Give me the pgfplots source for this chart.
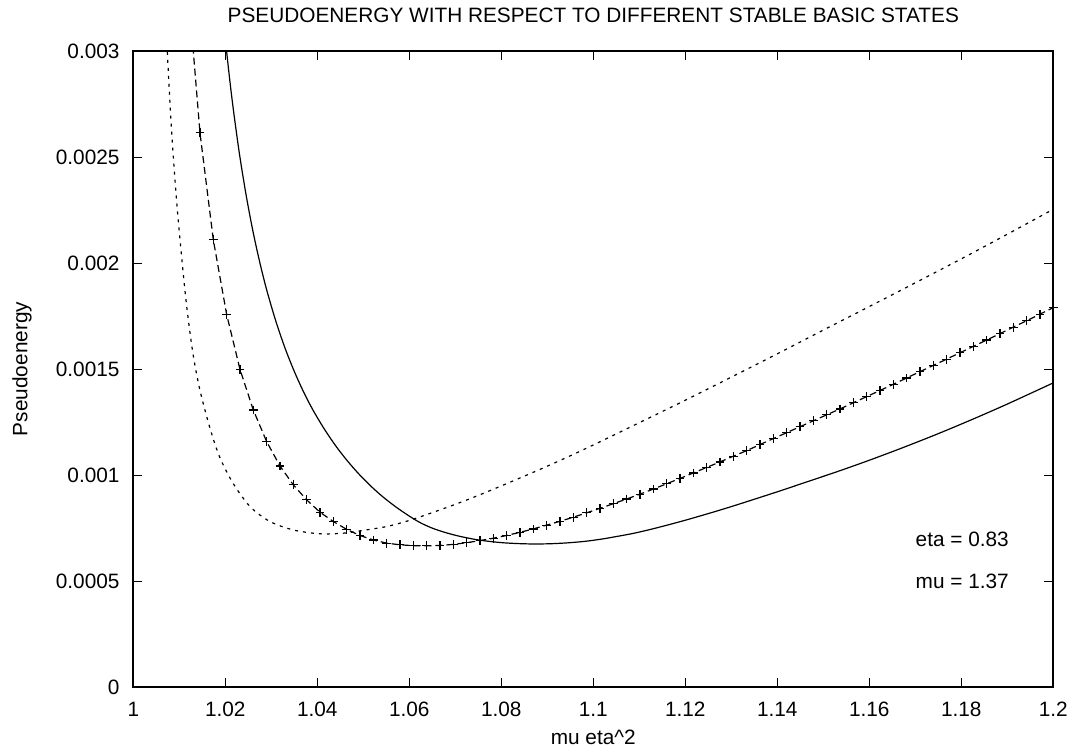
\documentclass[border=0pt]{standalone}
\usepackage{fontspec}
\setmainfont{Liberation Sans}
\usepackage{pgfplots}
\pgfplotsset{compat=1.18}
\usepackage{pgfplotstable}

\newcommand{\fs}{\fontsize{10.4}{12.5}\selectfont}

% dashed series with + marks (first row lies above the plot range)
\pgfplotstableread{
x y
1.011594 0.003384
1.014493 0.002616
1.017391 0.002111
1.020290 0.001759
1.023188 0.001500
1.026087 0.001308
1.028986 0.001159
1.031884 0.001044
1.034783 0.000955
1.037681 0.000884
1.040580 0.000826
1.043478 0.000782
1.046377 0.000745
1.049275 0.000716
1.052174 0.000695
1.055072 0.000680
1.057971 0.000672
1.060870 0.000668
1.063768 0.000667
1.066667 0.000669
1.069565 0.000674
1.072464 0.000682
1.075362 0.000692
1.078261 0.000703
1.081159 0.000716
1.084058 0.000731
1.086957 0.000747
1.089855 0.000765
1.092754 0.000783
1.095652 0.000802
1.098551 0.000823
1.101449 0.000844
1.104348 0.000866
1.107246 0.000888
1.110145 0.000911
1.113043 0.000935
1.115942 0.000960
1.118841 0.000985
1.121739 0.001011
1.124638 0.001037
1.127536 0.001063
1.130435 0.001090
1.133333 0.001116
1.136232 0.001145
1.139130 0.001173
1.142029 0.001201
1.144928 0.001229
1.147826 0.001257
1.150725 0.001285
1.153623 0.001313
1.156522 0.001342
1.159420 0.001371
1.162319 0.001400
1.165217 0.001429
1.168116 0.001459
1.171014 0.001489
1.173913 0.001518
1.176812 0.001548
1.179710 0.001578
1.182609 0.001608
1.185507 0.001638
1.188406 0.001668
1.191304 0.001699
1.194203 0.001729
1.197101 0.001760
1.200000 0.001791
}\dashdata

\pgfplotstableread{
x y
1.0065 0.00345
1.00739 0.00300
1.00834 0.00262
1.00943 0.00229
1.01073 0.00198
1.0117 0.00178
1.0130 0.00157
1.0145 0.00140
1.0167 0.00122
1.0188 0.001085
1.0217 0.000962
1.0254 0.000852
1.0297 0.000782
1.0348 0.000742
1.0406 0.000724
1.0457 0.000727
1.0493 0.000738
1.0550 0.000758
1.0600 0.000787
1.0650 0.000824
1.0700 0.000863
1.0750 0.000905
1.0800 0.000950
1.0850 0.000996
1.0900 0.001043
1.0950 0.001092
1.1000 0.001143
1.1100 0.001248
1.1200 0.001354
1.1300 0.001463
1.1400 0.001573
1.1500 0.001685
1.1600 0.001796
1.1700 0.001908
1.1800 0.002021
1.1900 0.002137
1.2000 0.002255
}\dotdata

\pgfplotstableread{
x y
1.0175 0.003712
1.0190 0.003291
1.0203 0.002997
1.0215 0.002768
1.0230 0.002527
1.0245 0.002325
1.0260 0.002152
1.0275 0.002004
1.0290 0.001874
1.0310 0.001726
1.0330 0.001599
1.0350 0.001490
1.0370 0.001394
1.0390 0.001310
1.0415 0.001219
1.0440 0.001139
1.0465 0.001069
1.0490 0.001007
1.0515 0.000952
1.0540 0.000903
1.0570 0.000852
1.0601 0.000806
1.0626 0.000774
1.0652 0.000749
1.0680 0.000729
1.0710 0.000712
1.0750 0.000695
1.0797 0.000683
1.0835 0.000678
1.0870 0.000676
1.0905 0.000677
1.0942 0.000681
1.0980 0.000688
1.1015 0.000698
1.1050 0.000711
1.1087 0.000726
1.1123 0.000744
1.1159 0.000764
1.1195 0.000785
1.1232 0.000808
1.1268 0.000831
1.1304 0.000855
1.1340 0.000880
1.1380 0.000908
1.1418 0.000935
1.1456 0.000963
1.1530 0.001017
1.1600 0.001071
1.1670 0.001128
1.1746 0.001193
1.1820 0.001260
1.1900 0.001336
1.2000 0.001436
}\soliddata

\begin{document}
\begin{tikzpicture}
\useasboundingbox (0pt,0pt) rectangle (536pt,374pt);
\begin{axis}[
  at={(66.65pt,30.35pt)}, anchor=south west,
  scale only axis, width=460pt, height=318pt,
  xmin=1, xmax=1.2, ymin=0, ymax=0.003,
  xtick={1,1.02,1.04,1.06,1.08,1.1,1.12,1.14,1.16,1.18,1.2},
  xticklabels={1,1.02,1.04,1.06,1.08,1.1,1.12,1.14,1.16,1.18,1.2},
  ytick={0,0.0005,0.001,0.0015,0.002,0.0025,0.003},
  yticklabels={0,0.0005,0.001,0.0015,0.002,0.0025,0.003},
  scaled ticks=false,
  tick align=inside,
  major tick length=4.5pt,
  every tick/.style={black, line width=0.5pt},
  axis line style={line width=1pt},
  tick label style={font=\fs, inner sep=0pt},
  xticklabel style={anchor=base, yshift=-14.7pt},
  yticklabel style={anchor=east, xshift=-6.7pt},
]
\addplot[black, line width=0.6pt, dash pattern=on 1.5pt off 2.5pt, smooth] table {\dotdata};
\addplot[black, line width=0.6pt, dash pattern=on 3.5pt off 2pt] table {\dashdata};
\addplot[black, only marks, mark=+, mark size=2.2pt, mark options={line width=0.6pt, solid}, skip coords between index={0}{1}] table {\dashdata};
\addplot[black, line width=0.6pt, smooth] table {\soliddata};
\node[font=\fs, anchor=west, inner sep=0pt] at (axis cs:1.17,0.0007) {eta = 0.83};
\node[font=\fs, anchor=west, inner sep=0pt] at (axis cs:1.17,0.0005) {mu = 1.37};
\end{axis}
\node[font=\fs, anchor=base, inner sep=0pt] at (296.65pt,362.5pt) {PSEUDOENERGY WITH RESPECT TO DIFFERENT STABLE BASIC STATES};
\node[font=\fs, anchor=base, inner sep=0pt] at (296.65pt,1.5pt) {mu eta\textasciicircum 2};
\node[font=\fs, rotate=90, inner sep=0pt] at (11pt,189.5pt) {Pseudoenergy};
\end{tikzpicture}
\end{document}
